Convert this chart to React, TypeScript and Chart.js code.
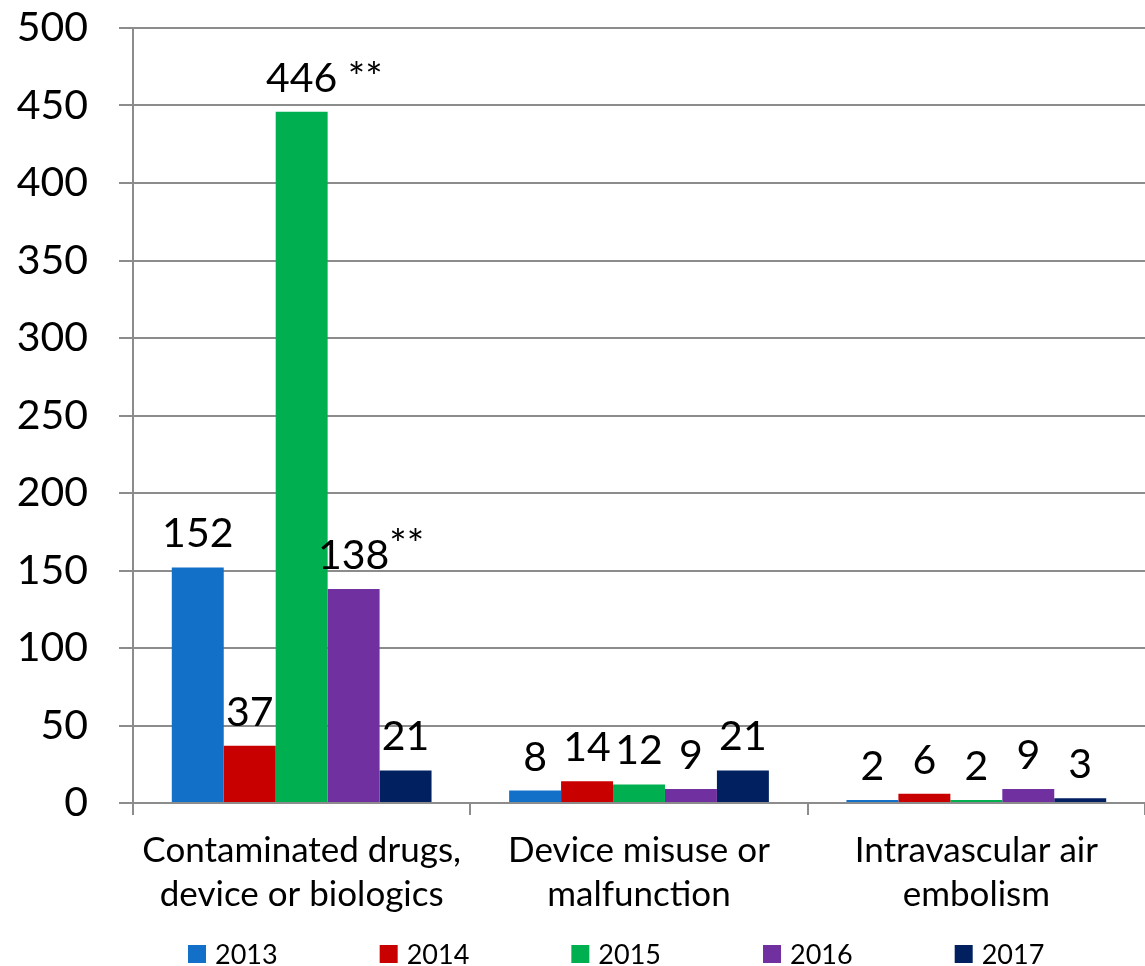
import React, { useEffect, useRef } from "react";
import { Chart, registerables } from "chart.js";

Chart.register(...registerables);

const categories = [
  ["Contaminated drugs,", "device or biologics"],
  ["Device misuse or", "malfunction"],
  ["Intravascular air", "embolism"],
];
const seriesNames = ["2013", "2014", "2015", "2016", "2017"];
const values2013 = [152, 8, 2];
const values2014 = [37, 14, 6];
const values2015 = [446, 12, 2];
const values2016 = [138, 9, 9];
const values2017 = [21, 21, 3];
// annotation marks attached to value labels
const notes2015 = [" **", "", ""];
const notes2016 = ["**", "", ""];
const noteRaised = [false, false, false, true, false];
const seriesColors = ["#1270C8", "#C80000", "#00B050", "#7030A0", "#002060"];
const yMin = 0;
const yMax = 500;
const yStep = 50;

const FONT = "Lato, 'Open Sans', sans-serif";
const GRID = "#8c8c8c";

const dataLabelPlugin = {
  id: "valueLabels",
  afterDatasetsDraw(chart: any) {
    const ctx = chart.ctx;
    ctx.save();
    ctx.font = `41px ${FONT}`;
    ctx.fillStyle = "#000";
    ctx.textBaseline = "alphabetic";
    chart.data.datasets.forEach((ds: any, di: number) => {
      const meta = chart.getDatasetMeta(di);
      meta.data.forEach((bar: any, i: number) => {
        const v = ds.data[i];
        const text = String(v);
        const y = bar.y - 20;
        ctx.textAlign = "center";
        ctx.fillText(text, bar.x, y);
        const note = ds.notes ? ds.notes[i] : "";
        if (note) {
          const w = ctx.measureText(text).width;
          ctx.textAlign = "left";
          ctx.fillText(note, bar.x + w / 2, noteRaised[di] ? y - 10 : y);
        }
      });
    });
    ctx.restore();
  },
};

const legendPlugin = {
  id: "bottomLegend",
  afterDraw(chart: any) {
    const { ctx, chartArea } = chart;
    ctx.save();
    ctx.font = `27px ${FONT}`;
    ctx.textBaseline = "middle";
    ctx.textAlign = "left";
    const startX = chartArea.left + 55;
    const step = chartArea.width * 0.1894;
    const boxTop = chart.height - 21;
    chart.data.datasets.forEach((ds: any, i: number) => {
      const x = startX + i * step;
      ctx.fillStyle = ds.backgroundColor;
      ctx.fillRect(x, boxTop, 18, 18);
      ctx.fillStyle = "#000";
      ctx.fillText(ds.label, x + 27, boxTop + 10);
    });
    ctx.restore();
  },
};

export default function App() {
  const ref = useRef<HTMLCanvasElement>(null);
  useEffect(() => {
    document.body.style.margin = "0";
    if (!ref.current) return;
    const allValues = [values2013, values2014, values2015, values2016, values2017];
    const allNotes = [null, null, notes2015, notes2016, null];
    const chart = new Chart(ref.current, {
      type: "bar",
      data: {
        labels: categories as any,
        datasets: seriesNames.map((name, i) => ({
          label: name,
          data: allValues[i],
          backgroundColor: seriesColors[i],
          borderWidth: 0,
          categoryPercentage: 0.77,
          barPercentage: 1.0,
          notes: allNotes[i],
        })) as any,
      },
      options: {
        animation: false,
        responsive: false,
        devicePixelRatio: 1,
        layout: { padding: { top: 28, right: 0, left: 0, bottom: 0 } },
        plugins: {
          legend: { display: false },
          tooltip: { enabled: false },
        },
        scales: {
          x: {
            grid: {
              offset: true,
              drawOnChartArea: false,
              drawTicks: true,
              tickLength: 12,
              color: GRID,
              lineWidth: 2,
            },
            border: { display: true, color: GRID, width: 2 },
            ticks: {
              color: "#000",
              font: { family: FONT, size: 35, lineHeight: 1.25 },
              padding: 14,
              maxRotation: 0,
              autoSkip: false,
            },
            afterFit: (scale: any) => {
              scale.height = 163;
            },
          },
          y: {
            min: yMin,
            max: yMax,
            ticks: {
              stepSize: yStep,
              color: "#000",
              font: { family: FONT, size: 41 },
              padding: 31,
            },
            grid: { color: GRID, lineWidth: 2, tickLength: 14 },
            border: { display: true, color: GRID, width: 2 },
            afterFit: (scale: any) => {
              scale.width = 133;
              scale.paddingTop = 20;
              scale.paddingBottom = 20;
            },
          },
        },
      },
      plugins: [dataLabelPlugin, legendPlugin],
    });
    return () => chart.destroy();
  }, []);
  return (
    <div style={{ width: 1145, height: 966, background: "#fff" }}>
      <canvas ref={ref} width={1145} height={966} style={{ display: "block" }} />
    </div>
  );
}
